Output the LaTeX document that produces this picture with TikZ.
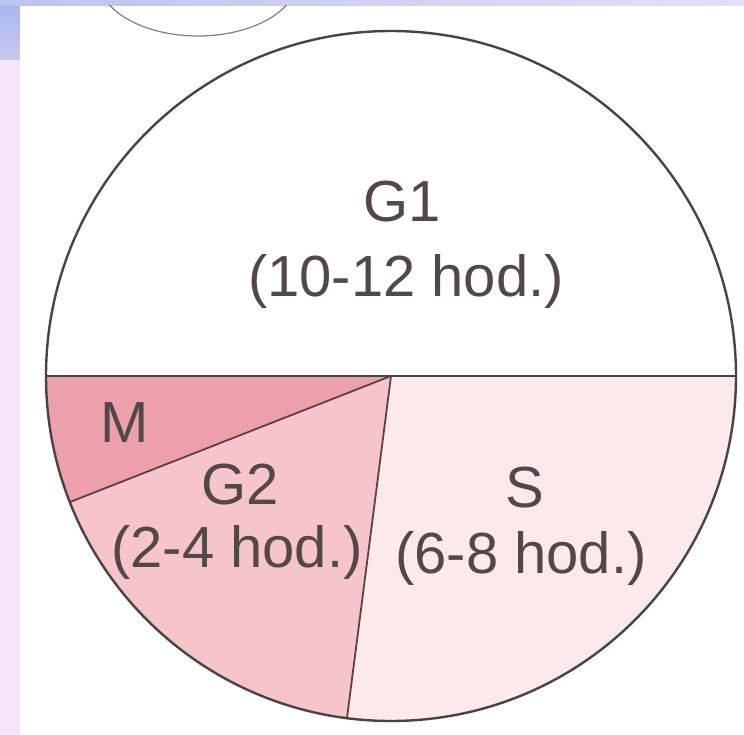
\documentclass[tikz,border=0pt]{standalone}
\usepackage{fontspec}
\setmainfont{Liberation Sans}
\usepackage{tikz}
\usetikzlibrary{calc}
\definecolor{PhaseM}{RGB}{236,160,172}
\definecolor{PhaseGtwo}{RGB}{245,197,203}
\definecolor{PhaseS}{RGB}{251,233,235}
\definecolor{EdgeGray}{RGB}{72,68,68}
\definecolor{CutLine}{RGB}{92,64,68}
\definecolor{LabelInk}{RGB}{82,72,72}
\definecolor{FrameBlue}{RGB}{168,182,236}
\definecolor{FrameLilac}{RGB}{228,222,250}
\definecolor{FramePink}{RGB}{246,228,248}

\begin{document}
\begin{tikzpicture}[x=1pt, y=-1pt,
    phase/.style={font=\fontsize{58}{70}\selectfont, text=LabelInk, anchor=base, inner sep=0pt}]
    \useasboundingbox (0,0) rectangle (744,735);

    % Frame
    \fill[FramePink] (0,0) rectangle (20,735);
    \shade[top color=FrameBlue, bottom color=FrameBlue!60!FramePink] (0,0) rectangle (20,60);
    \shade[left color=FrameBlue!80!white, right color=FrameLilac] (0,0) rectangle (744,6);
    \fill[white] (20,6) rectangle (744,735);

    % Top ellipse (cut off)
    \begin{scope}
      \clip (20,6) rectangle (744,735);
      \draw[gray, line width=1.2pt] (198,-22) ellipse[x radius=100, y radius=58];
    \end{scope}

    % Cycle circle
    \coordinate (c) at (391,376);
    \coordinate (west) at (46,376);
    \coordinate (east) at (736,376);
    \coordinate (mg) at (70,502);
    \coordinate (gs) at (347,718);

    \fill[PhaseM] (c) -- (west) arc[start angle=180, end angle=158.6, radius=345] -- cycle;
    \fill[PhaseGtwo] (c) -- (mg) arc[start angle=158.6, end angle=97.3, radius=345] -- cycle;
    \fill[PhaseS] (c) -- (gs) arc[start angle=97.3, end angle=0, radius=345] -- cycle;
    \fill[white] (644,610) rectangle (744,735);

    % Borders
    \draw[EdgeGray, line width=1.8pt] (west) -- (east);
    \draw[CutLine, line width=1.8pt] (c) -- (mg);
    \draw[CutLine, line width=1.8pt] (c) -- (gs);
    \draw[EdgeGray, line width=2.4pt] (c) circle[radius=345];

    % Labels
    \node[phase] (g1) at (402,222) {G1};
    \node[phase] (g1time) at (406,296) {(10-12 hod.)};
    \node[phase] (m) at (125,442) {M};
    \node[phase] (g2) at (240,504) {G2};
    \node[phase] (g2time) at (237,567) {(2-4 hod.)};
    \node[phase] (s) at (525,507) {S};
    \node[phase] (stime) at (521,573) {(6-8 hod.)};
\end{tikzpicture}
\end{document}
